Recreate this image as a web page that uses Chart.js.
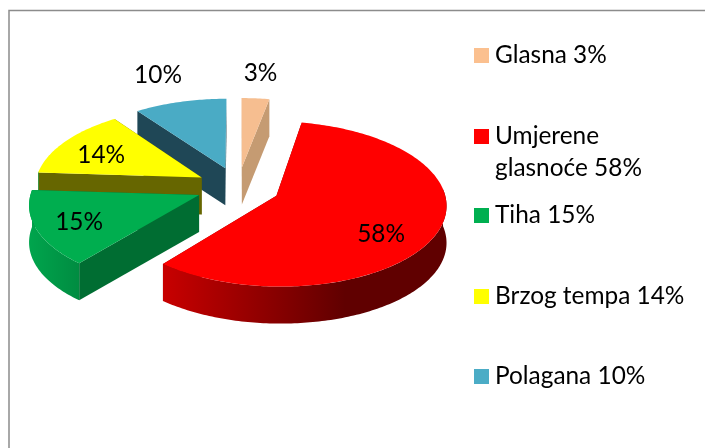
<!DOCTYPE html>
<html><head><meta charset="utf-8">
<style>html,body{margin:0;padding:0;background:#fff}canvas{display:block}</style>
<script src="https://cdn.jsdelivr.net/npm/chart.js@4"></script>
</head><body><canvas id="c" width="705" height="448"></canvas>
<script>
const categories = ['Glasna', 'Umjerene glasnoće', 'Tiha', 'Brzog tempa', 'Polagana'];
const values = [3, 58, 15, 14, 10];
const legendLines = [['Glasna 3%'], ['Umjerene', 'glasnoće 58%'], ['Tiha 15%'], ['Brzog tempa 14%'], ['Polagana 10%']];
const topColors = ['#F6BE90', '#FF0000', '#00AE4F', '#FFFF00', '#4AABC5'];
const swatchColors = ['#FBC08F', '#FF0000', '#00AF50', '#FFFF00', '#4BACC6'];
const radialColors = ['#C59B72', '#7F0000', '#006D32', '#666600', '#1F4756'];

const FONT = '24.4px Lato';
const TILT = 80 / 167, PERSP = 0.1, DEPTH = 37;
const drawOrder = [4, 0, 3, 2, 1];
const labelReach = [1.42, 0.72, 0.75, 0.72, 1.46];
const labelNudge = [[0, 0], [-10, 13], [1, 2], [-1, 4], [-4, 0]];
const legendBaselines = [63, 144, 223, 304, 384];

function project(arc, theta, frac) {
  const mid = (arc.startAngle + arc.endAngle) / 2;
  const R = arc.outerRadius, o = arc.options.offset;
  const wx = R * frac * Math.cos(theta) + o * Math.cos(mid);
  const wy = R * frac * Math.sin(theta) + o * Math.sin(mid);
  const s = 1 / (1 - PERSP * wy / R);
  return [arc.x + wx * s, arc.y + wy * TILT * s];
}
function arcPoints(arc, from, to) {
  const pts = [], n = Math.max(2, Math.ceil((to - from) * 60));
  for (let i = 0; i <= n; i++) pts.push(project(arc, from + (to - from) * i / n, 1));
  return pts;
}
function fillPoly(ctx, pts, fill) {
  ctx.beginPath();
  pts.forEach((p, i) => i ? ctx.lineTo(p[0], p[1]) : ctx.moveTo(p[0], p[1]));
  ctx.closePath();
  ctx.fillStyle = fill;
  ctx.fill();
}
function extrude(ctx, pts, fill) {
  const down = pts.slice().reverse().map(p => [p[0], p[1] + DEPTH]);
  fillPoly(ctx, pts.concat(down), fill);
}
function outerFill(ctx, i) {
  if (i === 1) {
    const g = ctx.createLinearGradient(163, 0, 345, 0);
    g.addColorStop(0, '#C80000'); g.addColorStop(1, '#600000');
    return g;
  }
  const g = ctx.createLinearGradient(29, 0, 83, 0);
  g.addColorStop(0, '#00A54D'); g.addColorStop(1, '#008A40');
  return g;
}

const pie3d = {
  id: 'pie3d',
  beforeDatasetDraw(chart) {
    const ctx = chart.ctx, arcs = chart.getDatasetMeta(0).data;
    ctx.save();
    drawOrder.forEach(i => {
      const a = arcs[i];
      const start = project(a, a.startAngle, 1), end = project(a, a.endAngle, 1);
      const apex = project(a, 0, 0);
      extrude(ctx, [apex, end], radialColors[i]);
      extrude(ctx, [apex, start], radialColors[i]);
      const from = Math.max(a.startAngle, -0.08), to = Math.min(a.endAngle, Math.PI + 0.08);
      if (to > from) extrude(ctx, arcPoints(a, from, to), outerFill(ctx, i));
      fillPoly(ctx, [apex].concat(arcPoints(a, a.startAngle, a.endAngle)), a.options.backgroundColor);
    });
    ctx.restore();
    return false;
  },
  afterDraw(chart) {
    const ctx = chart.ctx, arcs = chart.getDatasetMeta(0).data;
    ctx.save();
    ctx.font = FONT; ctx.fillStyle = '#000'; ctx.textAlign = 'center'; ctx.textBaseline = 'middle';
    arcs.forEach((a, i) => {
      const mid = (a.startAngle + a.endAngle) / 2;
      const p = project(a, mid, labelReach[i]);
      ctx.fillText(values[i] + '%', p[0] + labelNudge[i][0], p[1] + labelNudge[i][1]);
    });
    ctx.textAlign = 'left'; ctx.textBaseline = 'alphabetic';
    legendLines.forEach((lines, i) => {
      const b = legendBaselines[i];
      ctx.fillStyle = swatchColors[i];
      ctx.fillRect(474, b - 15, 15, 15);
      ctx.fillStyle = '#000';
      lines.forEach((t, j) => ctx.fillText(t, 495, b + j * 32));
    });
    ctx.strokeStyle = '#8C8C8C'; ctx.lineWidth = 1.5;
    ctx.strokeRect(9, 10.5, 720, 460);
    ctx.restore();
  }
};

new Chart(document.getElementById('c'), {
  type: 'pie',
  data: { labels: categories, datasets: [{ data: values, backgroundColor: topColors, borderWidth: 0, offset: 42 }] },
  options: {
    responsive: false, animation: false, radius: 167,
    layout: { padding: { left: 0, right: 229, top: 0, bottom: 74 } },
    plugins: { legend: { display: false }, tooltip: { enabled: false } }
  },
  plugins: [pie3d]
});
</script></body></html>
